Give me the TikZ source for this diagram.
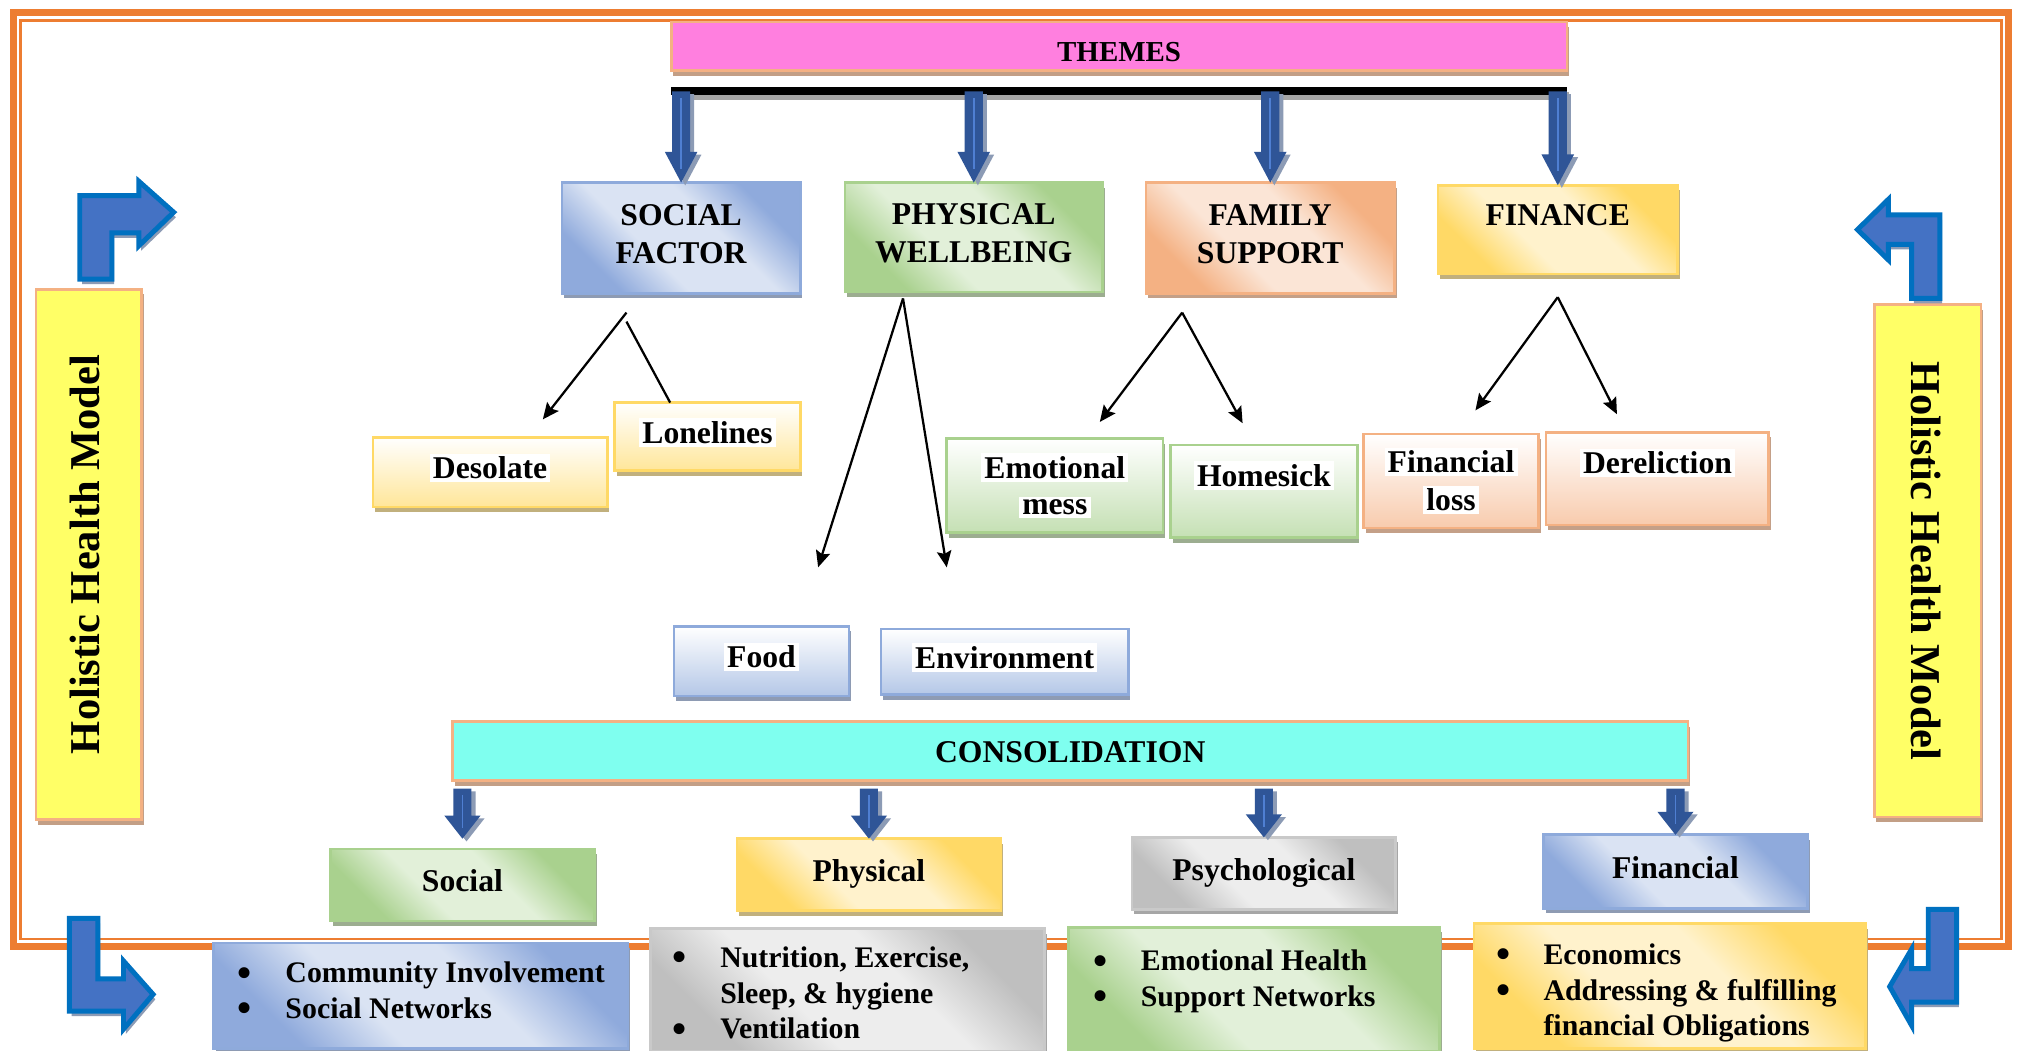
\documentclass[tikz,border=0pt]{standalone}
\usepackage{fontspec}
\setmainfont{Liberation Serif}
\usetikzlibrary{shadows,arrows.meta,calc}

\definecolor{frameOr}{HTML}{ED7D31}
\definecolor{edgeOr}{HTML}{F4B183}
\definecolor{shBrown}{HTML}{C39F86}
\definecolor{pinkF}{HTML}{FF7FDF}
\definecolor{cyanF}{HTML}{7FFFEF}
\definecolor{holY}{HTML}{FFFF66}
\definecolor{bluD}{HTML}{8FAADC}
\definecolor{bluL}{HTML}{DAE3F3}
\definecolor{bluE}{HTML}{8EAADB}
\definecolor{bluS}{HTML}{8E9BB3}
\definecolor{bluV}{HTML}{B4C7E7}
\definecolor{grnD}{HTML}{A9D18E}
\definecolor{grnL}{HTML}{E2F0D9}
\definecolor{grnS}{HTML}{9CAD90}
\definecolor{grnV}{HTML}{C5E0B4}
\definecolor{orD}{HTML}{F4B183}
\definecolor{orL}{HTML}{FBE5D6}
\definecolor{orS}{HTML}{C4A088}
\definecolor{orV}{HTML}{F8CBAD}
\definecolor{yeD}{HTML}{FFD966}
\definecolor{yeL}{HTML}{FFF2CC}
\definecolor{yeS}{HTML}{C1B07D}
\definecolor{yeV}{HTML}{FFE699}
\definecolor{gyD}{HTML}{BFBFBF}
\definecolor{gyL}{HTML}{EDEDED}
\definecolor{gyE}{HTML}{C9C9C9}
\definecolor{gyS}{HTML}{A6A6A6}
\definecolor{arrDk}{HTML}{2F5597}
\definecolor{arrHi}{HTML}{4F7FD2}
\definecolor{arrSh}{HTML}{8C9BB5}
\definecolor{bentF}{HTML}{4472C4}
\definecolor{bentE}{HTML}{0070C0}
\colorlet{dkc}{bluD}
\colorlet{ltc}{bluL}

% diagonal band: dark at two opposite corners, light through the middle
\pgfdeclarehorizontalshading[dkc,ltc]{diagband}{100bp}{%
  color(0bp)=(dkc); color(27bp)=(dkc); color(41bp)=(ltc);
  color(59bp)=(ltc); color(73bp)=(dkc); color(100bp)=(dkc)}

% white patch behind a label line
\newcommand{\wl}[1]{{\setlength{\fboxsep}{0.7pt}\colorbox{white}{#1}}}
\newcommand{\bul}{\makebox[10.5pt][l]{\raisebox{-0.25ex}{\scalebox{1.35}{\textbullet}}}}
\newcommand{\ind}{\hspace*{10.5pt}}
\newcommand{\lowpad}{\rule[-1.8pt]{0pt}{1.8pt}}

% thick blue downward block arrow: start, tip, head length, head half width
\newcommand{\BlockArrow}[4]{%
  \fill[arrSh] let \p1=(#1), \p2=(#2) in
    (\x1-2pt+0.9pt,\y1-0.6pt) -- (\x1+2pt+0.9pt,\y1-0.6pt) -- (\x1+2pt+0.9pt,\y2+#3-0.6pt)
    -- (\x1+#4+0.9pt,\y2+#3-0.6pt) -- (\x1+0.9pt,\y2-0.6pt) -- (\x1-#4+0.9pt,\y2+#3-0.6pt)
    -- (\x1-2pt+0.9pt,\y2+#3-0.6pt) -- cycle;
  \fill[arrDk] let \p1=(#1), \p2=(#2) in
    (\x1-2pt,\y1) -- (\x1+2pt,\y1) -- (\x1+2pt,\y2+#3)
    -- (\x1+#4,\y2+#3) -- (\x1,\y2) -- (\x1-#4,\y2+#3)
    -- (\x1-2pt,\y2+#3) -- cycle;
  \draw[arrHi, line width=0.35pt] let \p1=(#1), \p2=(#2) in
    (\x1,\y1-1.5pt) -- (\x1,\y2+#3*0.45);
}

\tikzset{
  every node/.append style={font=\fontsize{7}{8.5}\selectfont\bfseries,
    inner sep=0pt, outer sep=0pt, align=center, text=black},
  box/.style={draw, line width=0.6pt},
  one/.style={text height=0.65em, text depth=0.35em},
  shad/.style={drop shadow={shadow xshift=0.5pt, shadow yshift=-1.1pt,
    opacity=1, fill=#1}},
  diag/.style 2 args={shade, shading=diagband, shading angle=45,
    /utils/exec={\colorlet{dkc}{#1}\colorlet{ltc}{#2}}},
  vert/.style={top color=white, bottom color=#1},
  blueDiag/.style={box, draw=bluE, diag={bluD}{bluL}, shad=bluS},
  greenDiag/.style={box, draw=grnD, diag={grnD}{grnL}, shad=grnS},
  orangeDiag/.style={box, draw=orD, diag={orD}{orL}, shad=orS},
  yellowDiag/.style={box, draw=yeD, diag={yeD}{yeL}, shad=yeS},
  grayDiag/.style={box, draw=gyE, diag={gyD}{gyL}, shad=gyS},
  blueVert/.style={box, draw=bluE, vert=bluV, shad=bluS},
  greenVert/.style={box, draw=grnD, vert=grnV, shad=grnS},
  orangeVert/.style={box, draw=orD, vert=orV, shad=orS},
  yellowVert/.style={box, draw=yeD, vert=yeV, shad=yeS},
  bullets/.style={align=left, anchor=west, font=\fontsize{6.6}{7.9}\selectfont\bfseries},
  conn/.style={line width=0.5pt, -{Stealth[length=3.6pt,width=3.2pt,inset=0.6pt]}},
  plainconn/.style={line width=0.5pt},
  bent/.style={fill=bentF, draw=bentE, line width=1.1pt, line join=miter, shad=arrSh},
  holtext/.style={font=\fontsize{9.4}{11}\selectfont\bfseries},
}

\begin{document}
\begin{tikzpicture}[x=0.01cm, y=-0.01cm]
\useasboundingbox (0,0) rectangle (1568,817);
\fill[white] (0,0) rectangle (1568,817);

% double orange frame
\draw[frameOr, line width=1.55pt] (10.5,9.5) rectangle (1561.5,736);
\draw[frameOr, line width=0.55pt] (16,16) rectangle (1556,730);

% header and distribution bar
\node[box, draw=edgeOr, fill=pinkF, shad=shBrown, minimum width=6.96cm,
  minimum height=0.38cm, text height=0.75em, text depth=0.08em,
  font=\fontsize{6.4}{8}\selectfont\bfseries] (themes) at (870,36) {THEMES};
\node[fill=black, minimum width=6.96cm, minimum height=0.06cm, shad=gyS] (bar) at (870,71) {};

% theme boxes
\node[blueDiag, minimum width=1.85cm, minimum height=0.86cm] (social) at (529.5,185) {SOCIAL\\FACTOR\lowpad};
\node[greenDiag, minimum width=2.00cm, minimum height=0.85cm] (physical) at (757,184.5) {PHYSICAL\\WELLBEING\lowpad};
\node[orangeDiag, minimum width=1.93cm, minimum height=0.86cm] (family) at (987.5,185) {FAMILY\\SUPPORT\lowpad};
\node[yellowDiag, minimum width=1.86cm, minimum height=0.69cm] (finance) at (1211,178.5) {};
\node[one] (financeT) at (1211,170) {FINANCE};

% arrows from the bar to the themes
\BlockArrow{social.north |- bar.center}{social.north}{6.8pt}{3.6pt}
\BlockArrow{physical.north |- bar.center}{physical.north}{6.8pt}{3.6pt}
\BlockArrow{family.north |- bar.center}{family.north}{6.8pt}{3.6pt}
\BlockArrow{finance.north |- bar.center}{finance.north}{6.8pt}{3.6pt}

% sub-themes
\node[yellowVert, one, minimum width=1.82cm, minimum height=0.54cm] (desolate) at (381,367) {\wl{Desolate}};
\node[yellowVert, one, minimum width=1.44cm, minimum height=0.53cm] (lonel) at (550,339.5) {\wl{Lonelines}};
\node[greenVert, minimum width=1.68cm, minimum height=0.73cm, font=\fontsize{7}{8.1}\selectfont\bfseries] (emot) at (820,377.5) {\wl{Emotional}\\\wl{mess}};
\node[greenVert, minimum width=1.45cm, minimum height=0.72cm] (homesick) at (982.5,382) {};
\node[one] (homesickT) at (982.5,373) {\wl{Homesick}};
\node[orangeVert, minimum width=1.36cm, minimum height=0.73cm, font=\fontsize{7}{8.4}\selectfont\bfseries] (finloss) at (1128,374) {\wl{Financial}\\\wl{loss}};
\node[orangeVert, minimum width=1.73cm, minimum height=0.72cm] (derel) at (1288.5,372) {};
\node[one] (derelT) at (1288.5,363) {\wl{Dereliction}};
\node[blueVert, one, minimum width=1.36cm, minimum height=0.54cm] (food) at (592,514) {\wl{Food}};
\node[blueVert, one, minimum width=1.92cm, minimum height=0.51cm] (envir) at (781,514.5) {\wl{Environment}};

% thin connectors
\coordinate (sfTop1) at (487,243);
\coordinate (sfTop2) at (487,250);
\coordinate (sfEnd1) at (422,326);
\coordinate (sfEnd2) at (521,313);
\coordinate (pwTop) at (702,232);
\coordinate (pwEnd1) at (636,441);
\coordinate (pwEnd2) at (736,441);
\coordinate (fsTop) at (919,243);
\coordinate (fsEnd1) at (855,328);
\coordinate (fsEnd2) at (966,329);
\coordinate (fiTop) at (1211,231);
\coordinate (fiEnd1) at (1147,319);
\coordinate (fiEnd2) at (1257,322);
\draw[conn] (sfTop1) -- (sfEnd1);
\draw[plainconn] (sfTop2) -- (sfEnd2);
\draw[conn] (pwTop) -- (pwEnd1);
\draw[conn] (pwTop) -- (pwEnd2);
\draw[conn] (fsTop) -- (fsEnd1);
\draw[conn] (fsTop) -- (fsEnd2);
\draw[conn] (fiTop) -- (fiEnd1);
\draw[conn] (fiTop) -- (fiEnd2);

% consolidation
\node[box, draw=edgeOr, fill=cyanF, shad=shBrown, minimum width=9.60cm,
  minimum height=0.46cm, text height=0.75em, text depth=0.25em] (consol) at (832,584) {CONSOLIDATION};

\node[greenDiag, one, minimum width=2.05cm, minimum height=0.56cm] (catSoc) at (359.5,688) {Social};
\node[yellowDiag, one, minimum width=2.05cm, minimum height=0.56cm] (catPhy) at (675.5,680) {Physical};
\node[grayDiag, one, minimum width=2.05cm, minimum height=0.56cm] (catPsy) at (982.5,679) {Psychological};
\node[blueDiag, one, minimum width=2.05cm, minimum height=0.57cm] (catFin) at (1302.5,677.5) {Financial};

\coordinate (cLine) at (832,613);
\coordinate (tipSoc) at ($(catSoc.north)+(0,-8)$);
\BlockArrow{tipSoc |- cLine}{tipSoc}{5.1pt}{4pt}
\BlockArrow{catPhy.north |- cLine}{catPhy.north}{5.1pt}{4pt}
\BlockArrow{catPsy.north |- cLine}{catPsy.north}{5.1pt}{4pt}
\BlockArrow{catFin.north |- cLine}{catFin.north}{5.1pt}{4pt}

% detail boxes along the bottom
\node[blueDiag, minimum width=3.22cm, minimum height=0.82cm] (bSoc) at (327,774) {};
\node[bullets] (bSocT) at (185,771) {\bul Community Involvement\\\bul Social Networks};
\node[grayDiag, minimum width=3.06cm, minimum height=0.95cm] (bPhy) at (659,769.5) {};
\node[bullets] (bPhyT) at (523,773) {\bul Nutrition, Exercise,\\\ind Sleep, \& hygiene\\\bul Ventilation};
\node[greenDiag, minimum width=2.88cm, minimum height=0.96cm] (bPsy) at (975,769) {};
\node[bullets] (bPsyT) at (850,763) {\bul Emotional Health\\\bul Support Networks};
\node[yellowDiag, minimum width=3.04cm, minimum height=0.97cm] (bFin) at (1298,766.5) {};
\node[bullets] (bFinT) at (1163,772) {\bul Economics\\\bul Addressing \& fulfilling\\\ind financial Obligations};

% side labels
\node[box, draw=edgeOr, fill=holY, shad=shBrown, minimum width=0.82cm, minimum height=4.12cm] (holL) at (69,431) {};
\node[holtext, rotate=90] (holLT) at (66,431) {Holistic Health Model};
\node[box, draw=edgeOr, fill=holY, shad=shBrown, minimum width=0.83cm, minimum height=3.98cm] (holR) at (1498.5,436) {};
\node[holtext, rotate=-90] (holRT) at (1497,436) {Holistic Health Model};

% bent block arrows in the corners
\draw[bent] (62,217) -- (62,152) -- (108,152) -- (108,141) -- (135,165) -- (108,191)
  -- (108,181) -- (87,181) -- (87,217) -- cycle;
\draw[bent] (1508,232) -- (1508,167) -- (1468,167) -- (1468,155) -- (1444,178.5)
  -- (1468,202) -- (1468,190) -- (1486,190) -- (1486,232) -- cycle;
\draw[bent] (54,714) -- (76,714) -- (76,761) -- (96,761) -- (96,747) -- (119,773)
  -- (96,800) -- (96,786) -- (54,786) -- cycle;
\draw[bent] (1521,707) -- (1499,707) -- (1499,753) -- (1486,753) -- (1486,738)
  -- (1469,767) -- (1486,797) -- (1486,779) -- (1521,779) -- cycle;
\end{tikzpicture}
\end{document}
